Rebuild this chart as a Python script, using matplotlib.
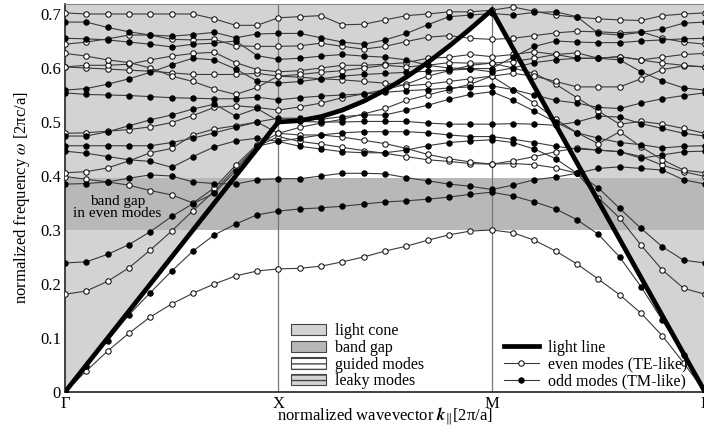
import numpy as np
import matplotlib.pyplot as plt
from matplotlib.patches import Patch
from matplotlib.lines import Line2D

plt.rcParams['font.family'] = ['Liberation Serif', 'DejaVu Serif']
plt.rcParams['mathtext.fontset'] = 'stix'

# k-path labels (10 k-points per segment, equal spacing on the plot)
k_labels = ['Γ', 'X', 'M', 'Γ']
y_ticks = [0, 0.1, 0.2, 0.3, 0.4, 0.5, 0.6, 0.7]
y_tick_labels = ['0', '0.1', '0.2', '0.3', '0.4', '0.5', '0.6', '0.7']
gap_lo, gap_hi = 0.300, 0.397

# light line |k| along Γ-X-M-Γ
light_line = [0.000, 0.050, 0.100, 0.150, 0.200, 0.250, 0.300, 0.350, 0.400, 0.450, 0.500,
              0.5025, 0.5099, 0.5220, 0.5385, 0.5590, 0.5831, 0.6103, 0.6403, 0.6727, 0.7071,
              0.6364, 0.5657, 0.4950, 0.4243, 0.3536, 0.2828, 0.2121, 0.1414, 0.0707, 0.000]

# even modes (TE-like)
te1 = [0, 0.039, 0.076, 0.109, 0.139, 0.163, 0.183, 0.200, 0.215, 0.224, 0.228,
       0.229, 0.233, 0.241, 0.250, 0.261, 0.270, 0.281, 0.291, 0.298, 0.300,
       0.295, 0.281, 0.261, 0.237, 0.209, 0.180, 0.146, 0.104, 0.054, 0.0]
te2 = [0.181, 0.187, 0.205, 0.230, 0.263, 0.298, 0.336, 0.372, 0.415, 0.455, 0.473,
       0.464, 0.459, 0.453, 0.447, 0.442, 0.436, 0.430, 0.427, 0.423, 0.422,
       0.423, 0.421, 0.415, 0.405, 0.360, 0.322, 0.272, 0.226, 0.192, 0.181]
te3 = [0.399, 0.394, 0.389, 0.383, 0.373, 0.365, 0.350, 0.378, 0.420, 0.458, 0.479,
       0.476, 0.476, 0.472, 0.466, 0.460, 0.451, 0.440, 0.432, 0.426, 0.422,
       0.428, 0.436, 0.445, 0.452, 0.448, 0.445, 0.436, 0.420, 0.408, 0.399]
te4 = [0.406, 0.408, 0.415, 0.428, 0.443, 0.451, 0.476, 0.487, 0.493, 0.500, 0.479,
       0.490, 0.498, 0.505, 0.515, 0.525, 0.540, 0.550, 0.560, 0.570, 0.585,
       0.560, 0.535, 0.505, 0.480, 0.460, 0.482, 0.454, 0.430, 0.411, 0.406]
te5 = [0.479, 0.480, 0.483, 0.486, 0.491, 0.499, 0.512, 0.527, 0.530, 0.527, 0.522,
       0.528, 0.535, 0.545, 0.552, 0.560, 0.570, 0.585, 0.595, 0.605, 0.609,
       0.600, 0.590, 0.570, 0.545, 0.520, 0.496, 0.501, 0.496, 0.488, 0.479]
te6 = [0.602, 0.600, 0.598, 0.596, 0.594, 0.591, 0.588, 0.588, 0.588, 0.590, 0.585,
       0.583, 0.580, 0.578, 0.575, 0.572, 0.567, 0.570, 0.575, 0.580, 0.585,
       0.590, 0.585, 0.575, 0.565, 0.565, 0.565, 0.580, 0.597, 0.604, 0.602]
te7 = [0.602, 0.605, 0.605, 0.607, 0.615, 0.622, 0.627, 0.629, 0.610, 0.597, 0.593,
       0.595, 0.600, 0.605, 0.605, 0.607, 0.610, 0.618, 0.620, 0.625, 0.621,
       0.625, 0.630, 0.625, 0.618, 0.618, 0.621, 0.615, 0.609, 0.605, 0.602]
te8 = [0.627, 0.622, 0.615, 0.610, 0.600, 0.585, 0.575, 0.561, 0.551, 0.564, 0.585,
       0.588, 0.592, 0.595, 0.600, 0.605, 0.602, 0.605, 0.610, 0.609, 0.609,
       0.612, 0.618, 0.625, 0.628, 0.618, 0.621, 0.615, 0.620, 0.625, 0.627]
te9 = [0.644, 0.648, 0.654, 0.661, 0.661, 0.653, 0.652, 0.653, 0.641, 0.640, 0.640,
       0.641, 0.646, 0.640, 0.635, 0.640, 0.649, 0.657, 0.660, 0.655, 0.653,
       0.655, 0.660, 0.665, 0.668, 0.667, 0.665, 0.667, 0.655, 0.648, 0.644]
te10 = [0.702, 0.700, 0.700, 0.700, 0.700, 0.700, 0.700, 0.691, 0.679, 0.679, 0.693,
        0.695, 0.697, 0.680, 0.681, 0.689, 0.697, 0.700, 0.704, 0.704, 0.707,
        0.713, 0.705, 0.698, 0.694, 0.691, 0.689, 0.688, 0.697, 0.700, 0.702]

# odd modes (TM-like)
tm1 = [0, 0.049, 0.095, 0.143, 0.184, 0.224, 0.261, 0.291, 0.311, 0.328, 0.335,
       0.339, 0.341, 0.344, 0.348, 0.352, 0.354, 0.357, 0.361, 0.366, 0.370,
       0.363, 0.352, 0.339, 0.319, 0.292, 0.250, 0.195, 0.133, 0.068, 0]
tm2 = [0.239, 0.241, 0.255, 0.273, 0.297, 0.325, 0.349, 0.368, 0.410, 0.455, 0.464,
       0.455, 0.450, 0.445, 0.443, 0.443, 0.448, 0.456, 0.462, 0.465, 0.467,
       0.462, 0.450, 0.432, 0.405, 0.378, 0.340, 0.303, 0.269, 0.244, 0.239]
tm3 = [0.385, 0.386, 0.389, 0.396, 0.402, 0.400, 0.389, 0.386, 0.385, 0.393, 0.395,
       0.395, 0.400, 0.405, 0.405, 0.404, 0.397, 0.391, 0.385, 0.381, 0.375,
       0.383, 0.393, 0.398, 0.405, 0.414, 0.417, 0.414, 0.411, 0.393, 0.385]
tm4 = [0.446, 0.442, 0.436, 0.430, 0.427, 0.416, 0.436, 0.454, 0.465, 0.470, 0.464,
       0.470, 0.476, 0.480, 0.482, 0.482, 0.482, 0.480, 0.476, 0.473, 0.473,
       0.468, 0.462, 0.455, 0.450, 0.448, 0.445, 0.433, 0.439, 0.445, 0.446]
tm5 = [0.456, 0.456, 0.456, 0.456, 0.456, 0.462, 0.470, 0.480, 0.490, 0.500, 0.507,
       0.507, 0.505, 0.510, 0.513, 0.513, 0.522, 0.531, 0.542, 0.551, 0.556,
       0.540, 0.520, 0.500, 0.480, 0.470, 0.462, 0.458, 0.452, 0.455, 0.456]
tm6 = [0.474, 0.474, 0.482, 0.493, 0.504, 0.513, 0.524, 0.533, 0.511, 0.525, 0.502,
       0.501, 0.500, 0.500, 0.501, 0.501, 0.501, 0.498, 0.496, 0.496, 0.496,
       0.497, 0.496, 0.494, 0.500, 0.511, 0.509, 0.497, 0.488, 0.479, 0.474]
tm7 = [0.554, 0.551, 0.550, 0.549, 0.547, 0.545, 0.544, 0.543, 0.543, 0.546, 0.541,
       0.545, 0.548, 0.550, 0.552, 0.555, 0.558, 0.560, 0.563, 0.565, 0.567,
       0.560, 0.550, 0.540, 0.535, 0.527, 0.525, 0.535, 0.543, 0.549, 0.554]
tm8 = [0.559, 0.562, 0.570, 0.580, 0.592, 0.606, 0.618, 0.615, 0.598, 0.576, 0.572,
       0.575, 0.580, 0.585, 0.588, 0.590, 0.592, 0.594, 0.596, 0.598, 0.593,
       0.600, 0.610, 0.615, 0.618, 0.618, 0.615, 0.593, 0.576, 0.563, 0.559]
tm9 = [0.655, 0.654, 0.652, 0.648, 0.644, 0.639, 0.644, 0.646, 0.650, 0.623, 0.616,
       0.618, 0.622, 0.625, 0.622, 0.620, 0.615, 0.605, 0.600, 0.599, 0.599,
       0.620, 0.640, 0.650, 0.648, 0.647, 0.647, 0.650, 0.652, 0.654, 0.655]
tm10 = [0.685, 0.685, 0.675, 0.667, 0.661, 0.659, 0.662, 0.666, 0.656, 0.663, 0.664,
        0.664, 0.656, 0.648, 0.644, 0.652, 0.664, 0.680, 0.695, 0.698, 0.701,
        0.698, 0.703, 0.704, 0.695, 0.664, 0.661, 0.666, 0.672, 0.683, 0.685]

even_bands = [te1, te2, te3, te4, te5, te6, te7, te8, te9, te10]
odd_bands = [tm1, tm2, tm3, tm4, tm5, tm6, tm7, tm8, tm9, tm10]

LIGHT = '#d3d3d3'
GAP = '#b8b8b8'
BAND_LINE = '#3a3a3a'


def draw_bands(ax, k):
    for band in even_bands:
        ax.plot(k, band, '-o', color=BAND_LINE, lw=0.8, ms=3.9,
                mfc='white', mec='black', mew=0.7, zorder=4)
    for band in odd_bands:
        ax.plot(k, band, '-o', color=BAND_LINE, lw=0.8, ms=3.9,
                mfc='black', mec='black', mew=0.7, zorder=4)


def main():
    fig = plt.figure(figsize=(7.04, 4.30), dpi=100)
    ax = fig.add_axes([65 / 704, 38 / 430, 640 / 704, 388 / 430])
    k = np.arange(len(light_line))
    ymax = 0.7185

    ax.fill_between(k, light_line, ymax, color=LIGHT, lw=0, zorder=0)
    ax.axhspan(gap_lo, gap_hi, color=GAP, lw=0, zorder=1)
    for xv in [10, 20]:
        ax.axvline(xv, color='#777777', lw=0.9, zorder=2)

    draw_bands(ax, k)
    ax.plot(k, light_line, color='black', lw=3.4, zorder=5,
            solid_capstyle='butt', solid_joinstyle='miter')

    ax.set_xlim(0, 30)
    ax.set_ylim(0, ymax)
    ax.set_xticks([0, 10, 20, 30])
    ax.set_xticklabels(k_labels, fontsize=12)
    ax.set_yticks(y_ticks)
    ax.set_yticklabels(y_tick_labels, fontsize=12)
    ax.tick_params(length=0, pad=3)
    for s in ['left', 'bottom']:
        ax.spines[s].set_linewidth(1.2)
        ax.spines[s].set_color('#222222')
    ax.spines['top'].set_color('#888888')
    ax.spines['right'].set_visible(False)

    ax.set_ylabel(r'normalized frequency $\omega$ [2πc/a]', fontsize=12, labelpad=6)
    ax.set_xlabel(r'normalized wavevector $\mathbfit{k}_{\|}$[2π/a]', fontsize=12, labelpad=-5)

    ax.text(2.45, 0.342, 'band gap\nin even modes', fontsize=11, ha='center',
            va='center', linespacing=0.95, zorder=6)

    patches = [Patch(facecolor=LIGHT, edgecolor='#444444', lw=0.8, label='light cone'),
               Patch(facecolor=GAP, edgecolor='#444444', lw=0.8, label='band gap'),
               Patch(facecolor='white', edgecolor='#444444', lw=0.8, hatch='---', label='guided modes'),
               Patch(facecolor=LIGHT, edgecolor='#444444', lw=0.8, hatch='---', label='leaky modes')]
    leg1 = fig.legend(handles=patches, loc='lower left', bbox_to_anchor=(281 / 704, 31 / 430),
                      frameon=False, fontsize=11.5, handlelength=2.2, handleheight=0.7,
                      labelspacing=0.05, handletextpad=0.55, borderpad=0.1)
    lines = [Line2D([], [], color='black', lw=3.4, label='light line'),
             Line2D([], [], color=BAND_LINE, lw=0.8, marker='o', ms=3.9, mfc='white',
                    mec='black', mew=0.7, label='even modes (TE-like)'),
             Line2D([], [], color=BAND_LINE, lw=0.8, marker='o', ms=3.9, mfc='black',
                    mec='black', mew=0.7, label='odd modes (TM-like)')]
    leg2 = fig.legend(handles=lines, loc='lower left', bbox_to_anchor=(494 / 704, 31 / 430),
                      frameon=False, fontsize=11.5, handlelength=2.2,
                      labelspacing=0.05, handletextpad=0.55, borderpad=0.1)
    leg1.set_zorder(10)
    leg2.set_zorder(10)

    fig.savefig('out.png', dpi=100)


if __name__ == '__main__':
    main()
